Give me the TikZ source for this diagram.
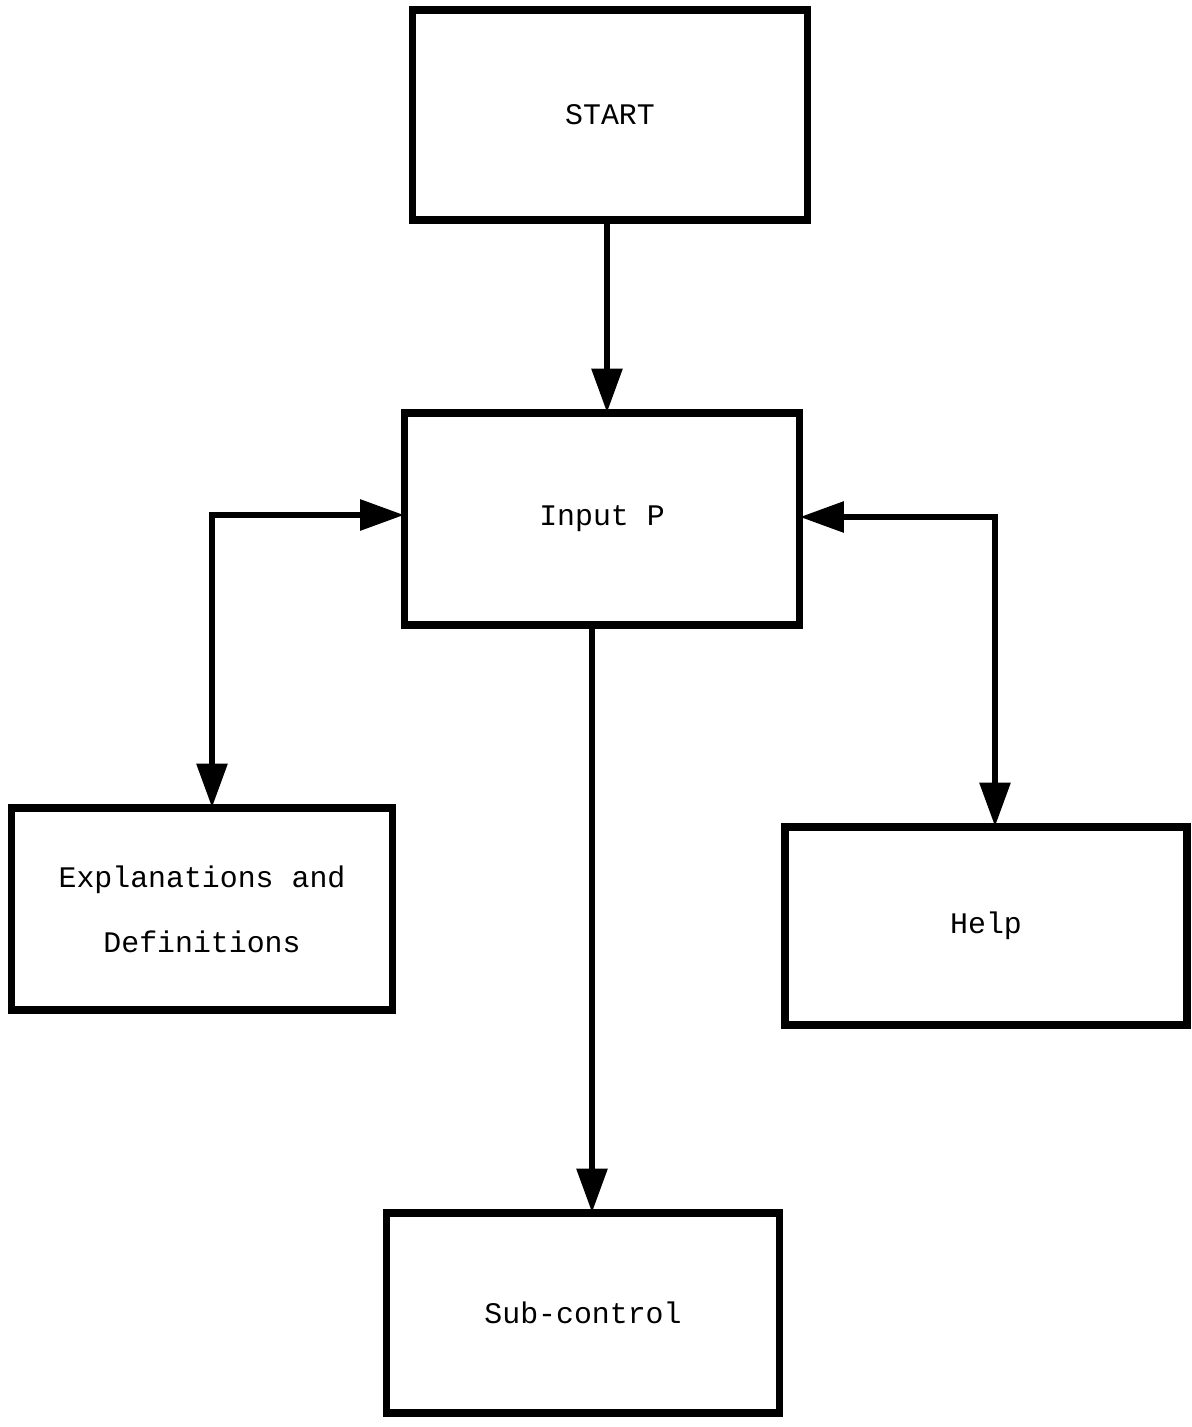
\documentclass[tikz,border=0pt]{standalone}
\usepackage{fontspec}
\setmonofont{Liberation Mono}
\usepackage{tikz}
\usetikzlibrary{calc}
\usetikzlibrary{arrows.meta}

\tikzset{
  flowbox/.style={draw, line width=4.5pt, rectangle, inner sep=0pt,
    font=\ttfamily\fontsize{17}{37}\selectfont, align=center},
  flowline/.style={line width=3.5pt, shorten >=-2pt, -{Triangle[length=25pt,width=17pt]}},
  flowboth/.style={line width=3.5pt, shorten >=-2pt, shorten <=-2pt,
    {Triangle[length=25pt,width=17pt]}-{Triangle[length=25pt,width=17pt]}}
}

\begin{document}
\begin{tikzpicture}[x=0.02cm, y=-0.02cm]
            \useasboundingbox (0,0) rectangle (1191,1427);%

            % Box START
            \node [flowbox, minimum width=7.9cm, minimum height=4.2cm] (start) at (610,115) {START};%

            % Box Input P
            \node [flowbox, minimum width=7.9cm, minimum height=4.24cm] (inp) at (602,519) {Input P};%

            % Box Explanations and Definitions
            \node [flowbox, minimum width=7.62cm, minimum height=4.04cm] (expl) at (202,909) {Explanations and\\Definitions};%

            % Box Help
            \node [flowbox, minimum width=8.04cm, minimum height=3.96cm] (help) at (986,926) {Help};%

            % Box Sub-control
            \node [flowbox, minimum width=7.86cm, minimum height=4cm] (sub) at (583,1313) {Sub-control};%

            % Columns and corners of the connectors
            \coordinate (tc) at (607,0);%
            \coordinate (bc) at (592,0);%
            \coordinate (lc) at (212,515);%
            \coordinate (rc) at (995,517);%

            % Drawing connector START -- Input P
            \draw [flowline] (start.south -| tc) -- (inp.north -| tc);%

            % Drawing connector Input P -- Sub-control
            \draw [flowline] (inp.south -| bc) -- (sub.north -| bc);%

            % Drawing connector Input P -- Explanations
            \draw [flowboth] (lc -| inp.west) -- (lc) -- (lc |- expl.north);%

            % Drawing connector Input P -- Help
            \draw [flowboth] (rc -| inp.east) -- (rc) -- (rc |- help.north);%
\end{tikzpicture}
\end{document}
